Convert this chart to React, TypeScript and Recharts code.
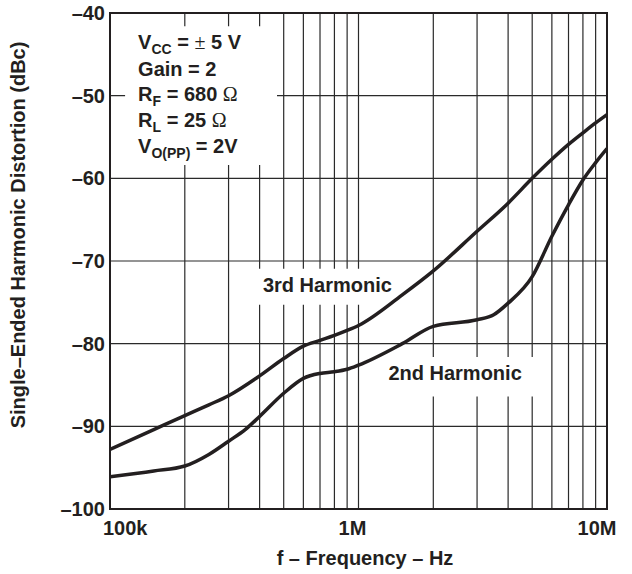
import React from 'react'
import {
  LineChart,
  Line,
  XAxis,
  YAxis,
  ReferenceLine,
  ReferenceArea,
  Label,
} from 'recharts'

// frequency (Hz) and distortion (dBc)
const freq2nd = [
  1e5, 1.5e5, 2e5, 2.5e5, 3e5, 3.5e5, 4e5, 5e5, 6e5, 7e5, 8e5, 9e5, 1e6,
  1.5e6, 2e6, 3e6, 3.5e6, 4e6, 5e6, 6e6, 7e6, 8e6, 9e6, 1e7,
]
const dist2nd = [
  -96.1, -95.4, -94.8, -93.4, -91.8, -90.4, -88.8, -86.0, -84.2, -83.6, -83.4,
  -83.1, -82.6, -80.0, -77.9, -77.1, -76.5, -75.1, -71.9, -67.0, -63.2, -60.2,
  -58.1, -56.4,
]
const freq3rd = [
  1e5, 1.5e5, 2e5, 2.5e5, 3e5, 4e5, 5e5, 6e5, 7e5, 8e5, 9e5, 1e6, 1.5e6, 2e6,
  3e6, 4e6, 5e6, 6e6, 7e6, 8e6, 9e6, 1e7,
]
const dist3rd = [
  -92.8, -90.4, -88.7, -87.4, -86.3, -83.9, -81.8, -80.3, -79.6, -79.0, -78.4,
  -77.8, -74.1, -71.2, -66.4, -63.0, -60.0, -57.7, -55.9, -54.5, -53.3, -52.3,
]

const xTicks = [1e5, 1e6, 1e7]
const xTickLabels = ['100k', '1M', '10M']
const yTicks = [-100, -90, -80, -70, -60, -50, -40]
const xGrid = [
  2e5, 3e5, 4e5, 5e5, 6e5, 7e5, 8e5, 9e5, 1e6, 2e6, 3e6, 4e6, 5e6, 6e6, 7e6,
  8e6, 9e6,
]
const yGrid = [-90, -80, -70, -60, -50]

const second = freq2nd.map((f, i) => ({ f, v: dist2nd[i] }))
const third = freq3rd.map((f, i) => ({ f, v: dist3rd[i] }))

const INK = '#231f20'
const FONT = '"Liberation Sans", Arial, Helvetica, sans-serif'
const SYM = '"Liberation Serif", "Times New Roman", serif'

const XTick = ({ x, y, payload }: any) => {
  const i = xTicks.indexOf(payload.value)
  const dx = i === 0 ? -7 : i === 1 ? -6 : -3
  return (
    <text
      x={x + dx}
      y={y}
      dy={26}
      textAnchor={i === 0 ? 'start' : 'middle'}
      fontFamily={FONT}
      fontWeight='bold'
      fontSize={20}
      fill={INK}
    >
      {xTickLabels[i]}
    </text>
  )
}

const YTick = ({ x, y, payload }: any) => (
  <text
    x={x}
    y={y}
    dy={7}
    textAnchor='end'
    fontFamily={FONT}
    fontWeight='bold'
    fontSize={20}
    fill={INK}
  >
    {'–' + Math.abs(payload.value)}
  </text>
)

const Conditions = ({ viewBox }: any) => {
  const lx = viewBox.x + 13
  const top = viewBox.y
  return (
    <g fontFamily={FONT} fontWeight='bold' fontSize={20} fill={INK}>
      <text x={lx} y={top + 23}>
        V<tspan fontSize={14} dy={5}>CC</tspan>
        <tspan dy={-5}>{' = '}</tspan>
        <tspan fontFamily={SYM} fontWeight='normal'>±</tspan>
        {' 5 V'}
      </text>
      <text x={lx} y={top + 50}>
        Gain = 2
      </text>
      <text x={lx} y={top + 75}>
        R<tspan fontSize={14} dy={5}>F</tspan>
        <tspan dy={-5}>{' = 680 '}</tspan>
        <tspan fontFamily={SYM} fontWeight='normal'>Ω</tspan>
      </text>
      <text x={lx} y={top + 101}>
        R<tspan fontSize={14} dy={5}>L</tspan>
        <tspan dy={-5}>{' = 25 '}</tspan>
        <tspan fontFamily={SYM} fontWeight='normal'>Ω</tspan>
      </text>
      <text x={lx} y={top + 127}>
        V<tspan fontSize={14} dy={5}>O(PP)</tspan>
        <tspan dy={-5}>{' = 2V'}</tspan>
      </text>
    </g>
  )
}

const boxLabel = (text: string, dx: number, dy: number) => ({ viewBox }: any) =>
  (
    <text
      x={viewBox.x + viewBox.width / 2 + dx}
      y={viewBox.y + viewBox.height / 2 + dy}
      dy={7}
      textAnchor='middle'
      fontFamily={FONT}
      fontWeight='bold'
      fontSize={20}
      fill={INK}
    >
      {text}
    </text>
  )

export default function App() {
  return (
    <div style={{ position: 'absolute', left: 0, top: 0, background: '#fff' }}>
      <LineChart
        width={632}
        height={574}
        margin={{ top: 13, right: 25, bottom: 0, left: 0 }}
      >
        <XAxis
          dataKey='f'
          type='number'
          scale='log'
          domain={[1e5, 1e7]}
          ticks={xTicks}
          allowDataOverflow
          height={65}
          axisLine={false}
          tickLine={false}
          tickSize={0}
          tickMargin={0}
          tick={<XTick />}
        >
          <Label
            content={() => (
              <text
                x={365}
                y={565}
                textAnchor='middle'
                fontFamily={FONT}
                fontWeight='bold'
                fontSize={20}
                fill={INK}
              >
                f – Frequency – Hz
              </text>
            )}
          />
        </XAxis>
        <YAxis
          type='number'
          domain={[-100, -40]}
          ticks={yTicks}
          allowDataOverflow
          width={110}
          axisLine={false}
          tickLine={false}
          tickSize={0}
          tickMargin={5}
          tick={<YTick />}
        >
          <Label
            content={() => (
              <text
                transform='translate(17.5,235) rotate(-90)'
                textAnchor='middle'
                dy={7}
                fontFamily={FONT}
                fontWeight='bold'
                fontSize={20}
                fill={INK}
              >
                Single–Ended Harmonic Distortion (dBc)
              </text>
            )}
          />
        </YAxis>

        {xGrid.map((v) => (
          <ReferenceLine key={'x' + v} x={v} stroke='#2a2a2a' strokeWidth={1.2} zIndex={-20} />
        ))}
        {yGrid.map((v) => (
          <ReferenceLine key={'y' + v} y={v} stroke='#2a2a2a' strokeWidth={1.2} zIndex={-20} />
        ))}

        <ReferenceArea
          x1={1.15e5}
          x2={4.7e5}
          y1={-58.4}
          y2={-41.6}
          fill='#fff'
          fillOpacity={1}
          stroke='none'
          zIndex={-10}
          label={<Conditions />}
        />
        <ReferenceArea
          x1={3.66e5}
          x2={1.4e6}
          y1={-75.3}
          y2={-70.95}
          fill='#fff'
          fillOpacity={1}
          stroke='none'
          zIndex={-10}
          label={boxLabel('3rd Harmonic', 5, -2)}
        />
        <ReferenceArea
          x1={1.28e6}
          x2={5.63e6}
          y1={-86.4}
          y2={-81.6}
          fill='#fff'
          fillOpacity={1}
          stroke='none'
          zIndex={-10}
          label={boxLabel('2nd Harmonic', -10, -4)}
        />

        <Line
          data={third}
          dataKey='v'
          type='monotone'
          stroke={INK}
          strokeWidth={3.5}
          dot={false}
          isAnimationActive={false}
        />
        <Line
          data={second}
          dataKey='v'
          type='monotone'
          stroke={INK}
          strokeWidth={3.5}
          dot={false}
          isAnimationActive={false}
        />

        <ReferenceArea
          x1={1e5}
          x2={1e7}
          y1={-100}
          y2={-40}
          fill='none'
          stroke={INK}
          strokeWidth={2}
          ifOverflow='visible'
          zIndex={500}
        />
      </LineChart>
    </div>
  )
}
